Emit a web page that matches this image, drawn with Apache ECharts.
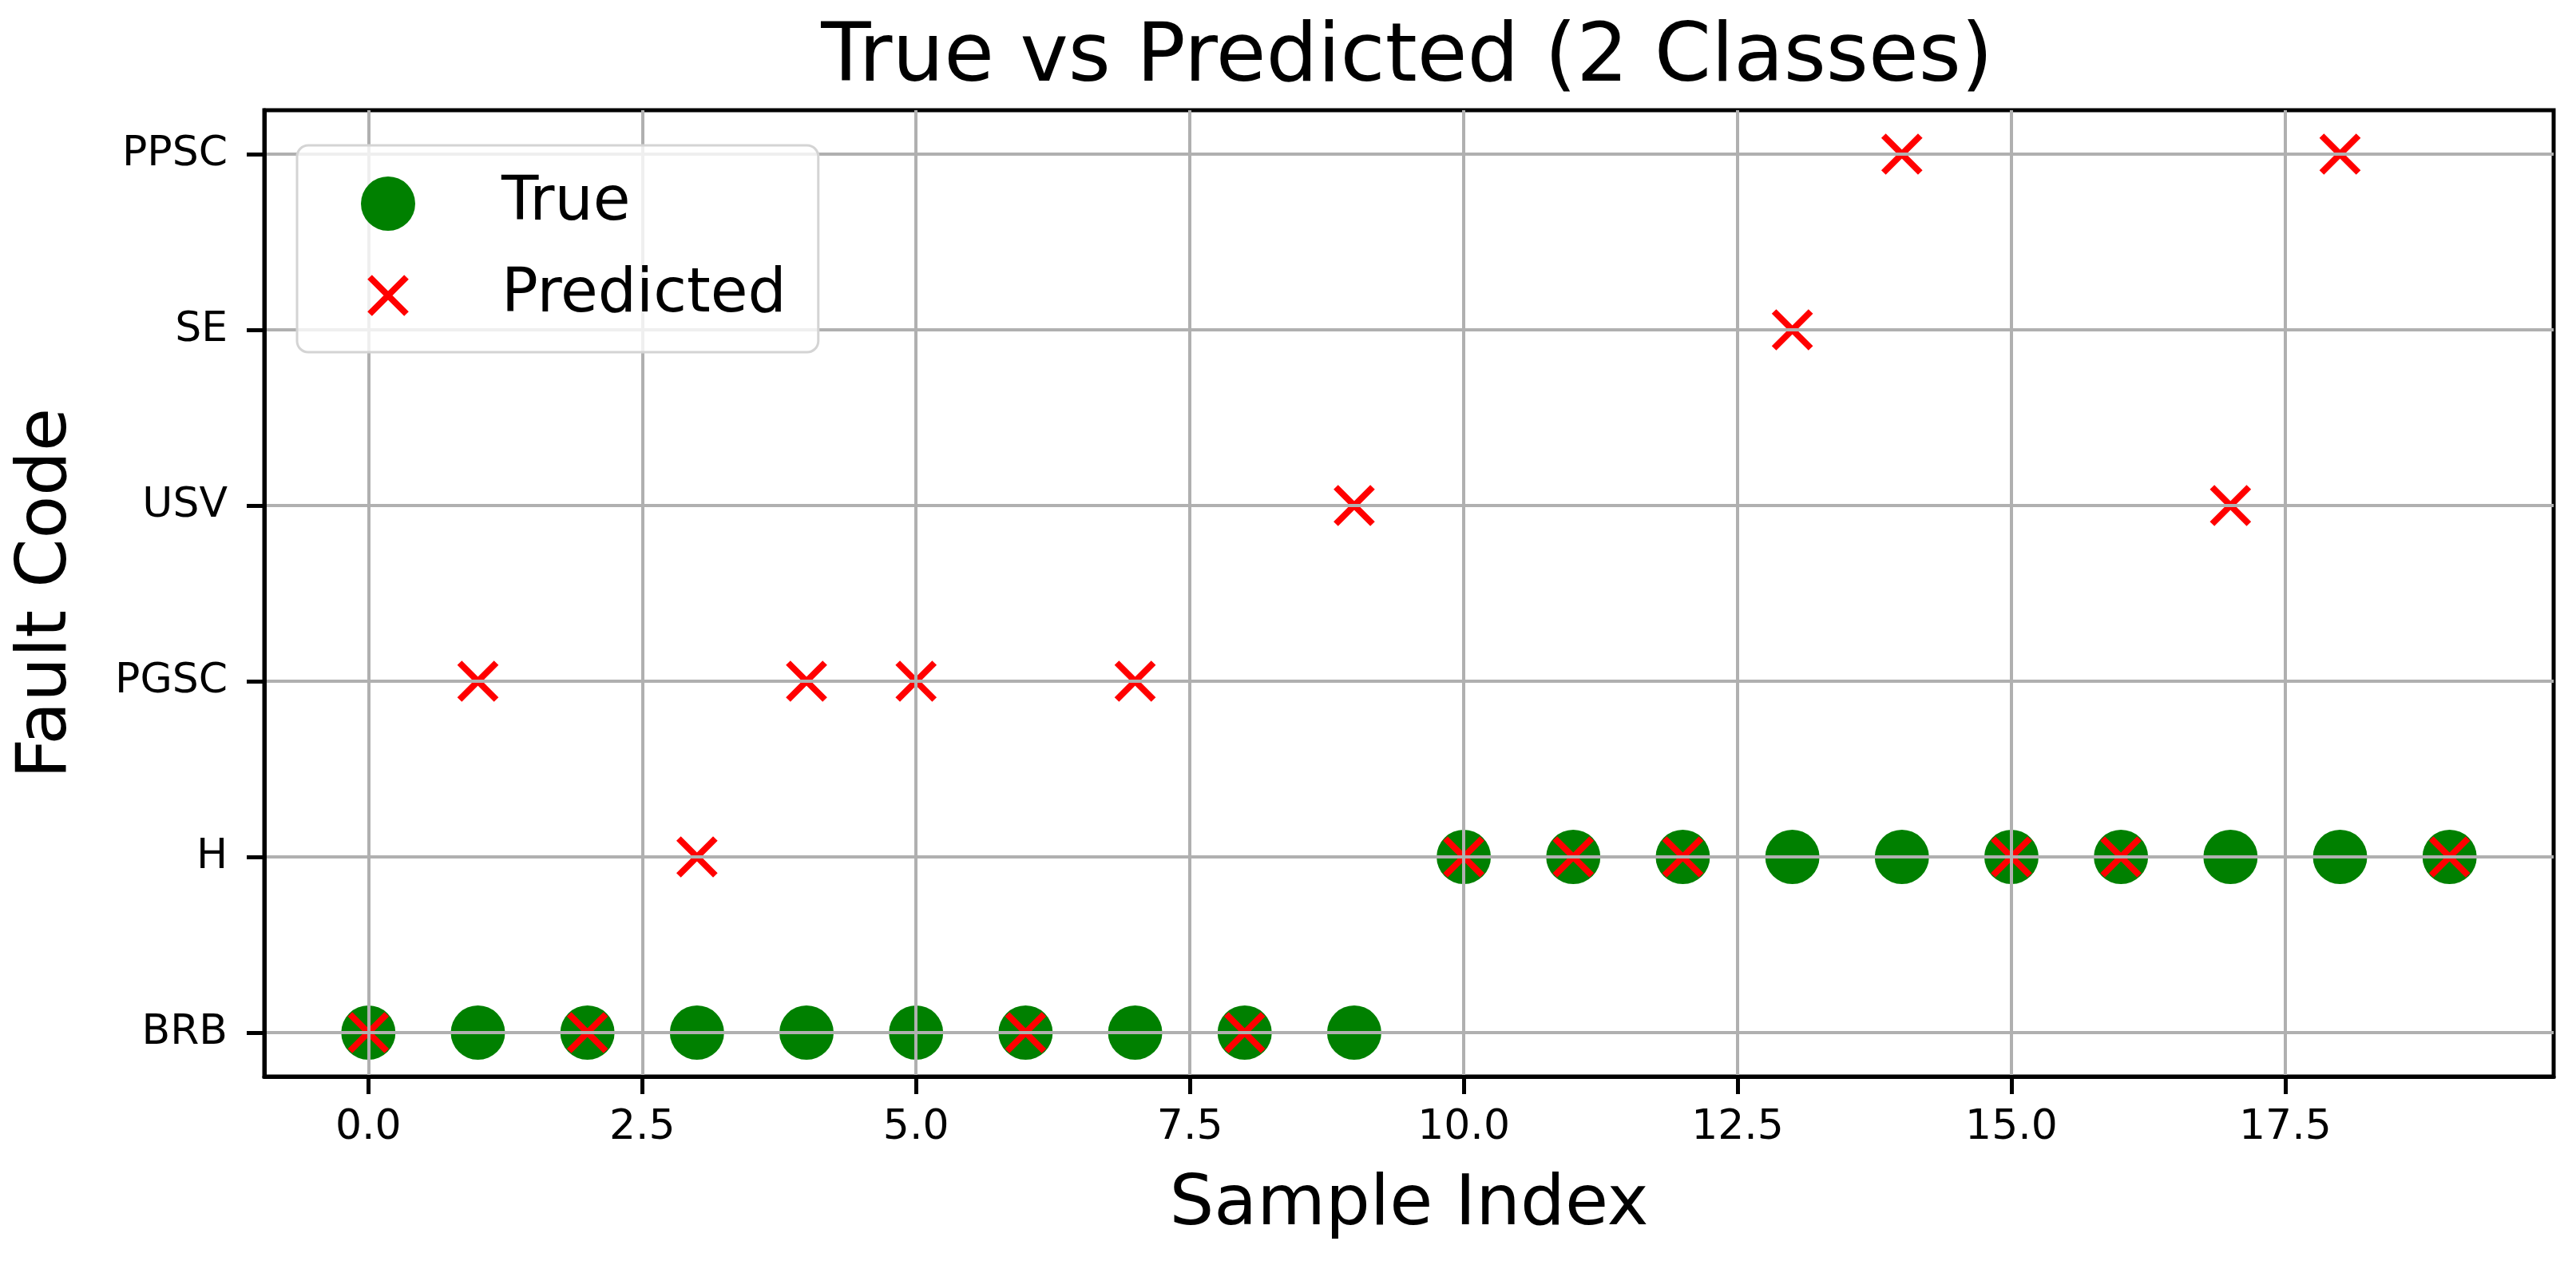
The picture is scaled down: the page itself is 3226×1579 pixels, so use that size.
<!DOCTYPE html>
<html>
<head>
<meta charset="utf-8">
<script src="https://cdn.jsdelivr.net/npm/echarts@6/dist/echarts.min.js"></script>
<style>
html,body{margin:0;padding:0;background:#fff;}
#chart{width:3226px;height:1579px;}
</style>
</head>
<body>
<div id="chart"></div>
<script>
const categories = ['BRB', 'H', 'PGSC', 'USV', 'SE', 'PPSC'];
const sampleIndex = [0, 1, 2, 3, 4, 5, 6, 7, 8, 9, 10, 11, 12, 13, 14, 15, 16, 17, 18, 19];
const trueLabels = ['BRB', 'BRB', 'BRB', 'BRB', 'BRB', 'BRB', 'BRB', 'BRB', 'BRB', 'BRB',
                    'H', 'H', 'H', 'H', 'H', 'H', 'H', 'H', 'H', 'H'];
const predictedLabels = ['BRB', 'PGSC', 'BRB', 'H', 'PGSC', 'PGSC', 'BRB', 'PGSC', 'BRB', 'USV',
                         'H', 'H', 'H', 'SE', 'PPSC', 'H', 'H', 'USV', 'PPSC', 'H'];
const xTickValues = [0, 2.5, 5, 7.5, 10, 12.5, 15, 17.5];
const yTickValues = [0, 1, 2, 3, 4, 5];

const FONT = 'DejaVu Sans';
const trueData = sampleIndex.map((x, i) => [x, categories.indexOf(trueLabels[i])]);
const predData = sampleIndex.map((x, i) => [x, categories.indexOf(predictedLabels[i])]);

const xSymbol = 'path://M0,0L10,10M10,0L0,10';
const xLegendSymbol = 'path://M0,0M68,68M11,11L57,57M57,11L11,57';

const chart = echarts.init(document.getElementById('chart'), null, {renderer: 'canvas'});
chart.setOption({
  animation: false,
  backgroundColor: '#ffffff',
  textStyle: {fontFamily: FONT},
  title: {
    text: 'True vs Predicted (2 Classes)',
    left: 1757,
    textAlign: 'center',
    top: 18,
    textStyle: {fontFamily: FONT, fontSize: 102, fontWeight: 'normal', color: '#000'}
  },
  grid: {
    left: 331, right: 28, top: 138, bottom: 231,
    show: true, borderColor: '#000', borderWidth: 5, backgroundColor: 'transparent',
    containLabel: false
  },
  legend: {
    orient: 'vertical',
    left: 372, top: 182,
    padding: [35, 40, 33, 76],
    itemGap: 39,
    itemWidth: 68, itemHeight: 68,
    backgroundColor: 'rgba(255,255,255,0.8)',
    borderColor: '#d4d4d4', borderWidth: 3, borderRadius: 14,
    z: 10,
    selectedMode: false,
    formatter: name => '{s|}' + name,
    textStyle: {
      fontFamily: FONT, fontSize: 76, color: '#000',
      rich: {s: {width: 103}}
    },
    data: [
      {name: 'True', icon: 'circle', itemStyle: {color: '#008000', borderWidth: 0}},
      {name: 'Predicted', icon: xLegendSymbol,
       itemStyle: {color: 'red', borderColor: 'red', borderWidth: 8}}
    ]
  },
  xAxis: {
    type: 'value',
    min: -0.95, max: 19.95,
    name: 'Sample Index',
    nameLocation: 'middle',
    nameGap: 118,
    nameTextStyle: {fontFamily: FONT, fontSize: 88, color: '#000'},
    z: 3,
    axisLine: {show: true, onZero: false, lineStyle: {color: '#000', width: 5}},
    axisTick: {show: true, customValues: xTickValues, length: 22, lineStyle: {color: '#000', width: 5}},
    axisLabel: {
      customValues: xTickValues, margin: 38,
      fontFamily: FONT, fontSize: 52, color: '#000',
      formatter: v => Number(v).toFixed(1)
    },
    splitLine: {show: true, lineStyle: {color: '#b0b0b0', width: 4}}
  },
  yAxis: {
    type: 'value',
    min: -0.25, max: 5.25,
    name: 'Fault Code',
    nameLocation: 'middle',
    nameGap: 228,
    nameTextStyle: {fontFamily: FONT, fontSize: 88, color: '#000'},
    z: 3,
    axisLine: {show: true, onZero: false, lineStyle: {color: '#000', width: 5}},
    axisTick: {show: true, customValues: yTickValues, length: 22, lineStyle: {color: '#000', width: 5}},
    axisLabel: {
      customValues: yTickValues, margin: 46,
      fontFamily: FONT, fontSize: 52, color: '#000',
      formatter: v => categories[Math.round(v)] || ''
    },
    splitLine: {show: true, lineStyle: {color: '#b0b0b0', width: 4}}
  },
  series: [
    {
      name: 'True',
      type: 'scatter',
      symbol: 'circle',
      symbolSize: 68,
      itemStyle: {color: '#008000', opacity: 1},
      emphasis: {disabled: true},
      data: trueData
    },
    {
      name: 'Predicted',
      type: 'scatter',
      symbol: xSymbol,
      symbolSize: 46,
      itemStyle: {color: 'red', borderColor: 'red', borderWidth: 8, opacity: 1},
      emphasis: {disabled: true},
      data: predData
    }
  ]
});
</script>
</body>
</html>
